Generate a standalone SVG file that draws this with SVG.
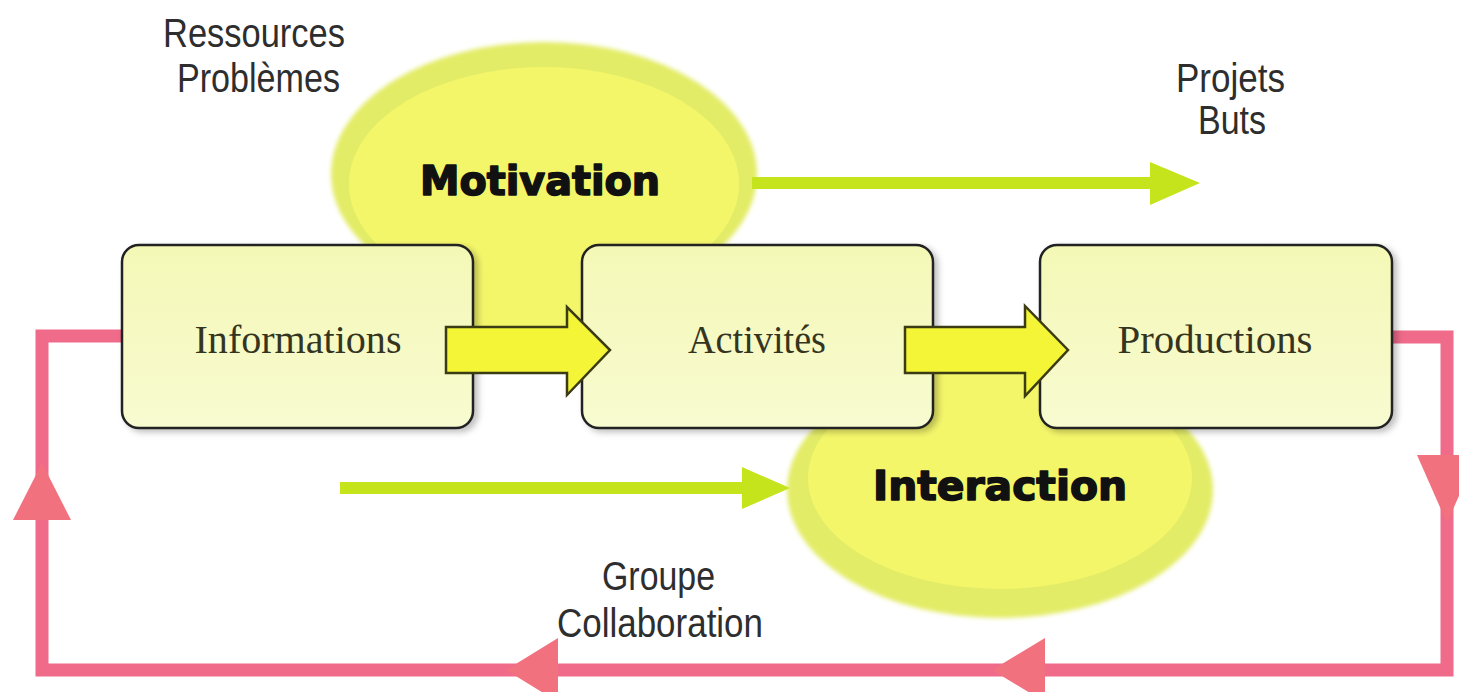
<svg xmlns="http://www.w3.org/2000/svg" width="1459" height="692" viewBox="0 0 1459 692">
<defs>
<linearGradient id="boxg" x1="0" y1="0" x2="0" y2="1">
<stop offset="0" stop-color="#f4f8b6"/>
<stop offset="1" stop-color="#f8fbd0"/>
</linearGradient>
<filter id="sh" x="-10%" y="-10%" width="125%" height="130%">
<feDropShadow dx="4" dy="3" stdDeviation="3" flood-color="#000" flood-opacity="0.25"/>
</filter>
<filter id="soft" x="-10%" y="-10%" width="120%" height="120%">
<feGaussianBlur stdDeviation="2"/>
</filter>
<style>
.box{fill:url(#boxg);stroke:#222;stroke-width:2.5}
.blobo{fill:#e3ec66}
.blobi{fill:#f4f66a}
.serif{font-family:"Liberation Serif","DejaVu Serif",serif;font-size:40px;fill:#35351f;text-anchor:middle}
.sans{font-family:"Liberation Sans",Arial,sans-serif;font-size:40px;fill:#2e2e2e}
.heavy{font-family:"DejaVu Sans","Liberation Sans",sans-serif;font-weight:900;font-size:40px;fill:#111;stroke:#111;stroke-width:1.6;stroke-linejoin:round}
.big{fill:#f3f536;stroke:#3b3b14;stroke-width:2.5;stroke-linejoin:miter}
.green{stroke:#c6e41c;stroke-width:12;fill:none}
.greenh{fill:#c6e41c}
.pink{stroke:#f06a8a;stroke-width:13;fill:none;stroke-linejoin:miter}
.pinkh{fill:#f2717f}
</style>
</defs>
<rect width="1459" height="692" fill="#ffffff"/>

<g id="motivation">
<ellipse class="blobo" cx="544" cy="174" rx="213" ry="132" filter="url(#soft)"/>
<rect class="blobo" x="468" y="250" width="120" height="95"/>
<ellipse class="blobi" cx="544" cy="184" rx="195" ry="117"/>
<rect class="blobi" x="468" y="260" width="120" height="85"/>
<text class="heavy" x="420" y="195" textLength="240" lengthAdjust="spacingAndGlyphs">Motivation</text>
</g>

<g id="interaction">
<ellipse class="blobo" cx="1000" cy="490" rx="213" ry="128" filter="url(#soft)"/>
<rect class="blobo" x="928" y="360" width="118" height="70"/>
<ellipse class="blobi" cx="1000" cy="478" rx="192" ry="111"/>
<rect class="blobi" x="928" y="360" width="118" height="60"/>
<text class="heavy" x="873" y="500" textLength="254" lengthAdjust="spacingAndGlyphs">Interaction</text>
</g>

<g id="connectors">
<path class="pink" d="M124,336 H42 V670 H1447 V337 H1390"/>
<polygon class="pinkh" points="13,520 71,520 42,463"/>
<polygon class="pinkh" points="1417,455 1477,455 1447,523"/>
<polygon class="pinkh" points="506,670 558,638 558,702"/>
<polygon class="pinkh" points="992,670 1045,638 1045,702"/>
<line class="green" x1="752" y1="183" x2="1152" y2="183"/>
<polygon class="greenh" points="1150,162 1200,183 1150,205"/>
<line class="green" x1="340" y1="488" x2="745" y2="488"/>
<polygon class="greenh" points="742,467 790,488 742,509"/>
</g>

<g id="informations">
<rect class="box" x="122" y="245" width="351" height="183" rx="17" filter="url(#sh)"/>
<text class="serif" x="298" y="353" textLength="207" lengthAdjust="spacingAndGlyphs">Informations</text>
</g>
<g id="activites">
<rect class="box" x="582" y="245" width="351" height="183" rx="17" filter="url(#sh)"/>
<text class="serif" x="757" y="353" textLength="138" lengthAdjust="spacingAndGlyphs">Activités</text>
</g>
<g id="productions">
<rect class="box" x="1040" y="245" width="352" height="183" rx="17" filter="url(#sh)"/>
<text class="serif" x="1215" y="353" textLength="195" lengthAdjust="spacingAndGlyphs">Productions</text>
</g>

<g id="arrows">
<polygon class="big" points="446,327 567,327 567,307 610,350 567,395 567,373 446,373"/>
<polygon class="big" points="905,327 1025,327 1025,306 1068,350 1025,396 1025,373 905,373"/>
</g>

<g id="labels">
<text class="sans" x="163" y="47" textLength="182" lengthAdjust="spacingAndGlyphs">Ressources</text>
<text class="sans" x="177" y="92" textLength="163" lengthAdjust="spacingAndGlyphs">Problèmes</text>
<text class="sans" x="1176" y="92" textLength="109" lengthAdjust="spacingAndGlyphs">Projets</text>
<text class="sans" x="1198" y="134" textLength="68" lengthAdjust="spacingAndGlyphs">Buts</text>
<text class="sans" x="602" y="590" textLength="113" lengthAdjust="spacingAndGlyphs">Groupe</text>
<text class="sans" x="557" y="637" textLength="206" lengthAdjust="spacingAndGlyphs">Collaboration</text>
</g>
</svg>
